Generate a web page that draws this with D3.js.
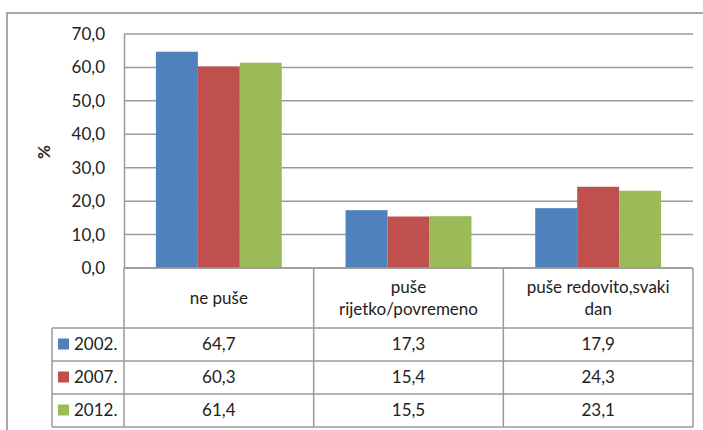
<!DOCTYPE html>
<html>
<head>
<meta charset="utf-8">
<script src="https://cdn.jsdelivr.net/npm/d3@7"></script>
<style>
body { margin: 0; background: #fff; }
text { font-family: Lato, "Liberation Sans", sans-serif; fill: #222; }
</style>
</head>
<body>
<svg id="view" width="703" height="430"></svg>
<script>
const categories = ['ne puše', 'puše rijetko/povremeno', 'puše redovito,svaki dan'];
const catLines = [['ne puše'], ['puše', 'rijetko/povremeno'], ['puše redovito,svaki', 'dan']];
const years = ['2002.', '2007.', '2012.'];
const v2002 = [64.7, 17.3, 17.9];
const v2007 = [60.3, 15.4, 24.3];
const v2012 = [61.4, 15.5, 23.1];
const colors = ['#4F81BD', '#C0504D', '#9BBB59'];
const yTicks = [0, 10, 20, 30, 40, 50, 60, 70];

var series = [v2002, v2007, v2012];
var fmt = d => d.toFixed(1).replace('.', ',');

var view = d3.select('#view');
const LEFT = 124, RIGHT = 693, TOP = 34, BASE = 268;
const ROWH = 33, HEADH = 60, LEGX = 52;
const GRID = '#9a9a9a';

// outer chart frame
view.append('rect')
    .attr('x', 7).attr('y', 13)
    .attr('width', 720).attr('height', 440)
    .attr('fill', 'none').attr('stroke', '#8c8c8c').attr('stroke-width', 1.5);

var x = d3.scaleBand().domain(categories).range([LEFT, RIGHT]).paddingInner(0).paddingOuter(0);
var y = d3.scaleLinear().domain([0, 70]).range([BASE, TOP]);
var xs = d3.scaleBand().domain(years).range([0, x.bandwidth()]).paddingInner(0).paddingOuter(0.76);

// grid
view.append('g').selectAll('line').data(yTicks).enter().append('line')
    .attr('x1', LEFT).attr('x2', RIGHT)
    .attr('y1', d => y(d)).attr('y2', d => y(d))
    .attr('stroke', GRID).attr('stroke-width', 1.5);

var yAxis = view.append('g')
    .attr('transform', 'translate(' + LEFT + ',0)')
    .call(d3.axisLeft(y).tickValues(yTicks).tickFormat(fmt).tickSize(0).tickPadding(19));
yAxis.select('.domain').attr('stroke', GRID).attr('stroke-width', 1.5);
yAxis.selectAll('text').attr('font-size', 17).attr('font-family', 'Lato, "Liberation Sans", sans-serif').attr('fill', '#222');

view.append('text')
    .attr('transform', 'translate(50,152) rotate(-90)')
    .attr('text-anchor', 'middle')
    .attr('font-size', 17).attr('font-weight', 'bold')
    .text('%');

// bars
series.forEach(function(vals, si) {
    view.append('g').selectAll('rect').data(vals).enter().append('rect')
        .attr('x', (d, i) => x(categories[i]) + xs(years[si]))
        .attr('width', xs.bandwidth())
        .attr('y', d => y(d))
        .attr('height', d => y(0) - y(d))
        .attr('fill', colors[si]);
});

// data table
var tab = view.append('g').attr('stroke', GRID).attr('stroke-width', 1.5);
var rowsY = years.map((yr, i) => BASE + HEADH + i * ROWH);
var tBottom = BASE + HEADH + years.length * ROWH;
tab.append('line').attr('x1', LEFT).attr('x2', RIGHT).attr('y1', BASE).attr('y2', BASE);
rowsY.concat([tBottom]).forEach(function(ry) {
    tab.append('line').attr('x1', LEGX).attr('x2', RIGHT).attr('y1', ry).attr('y2', ry);
});
categories.forEach(function(c) {
    tab.append('line').attr('x1', x(c)).attr('x2', x(c)).attr('y1', BASE).attr('y2', tBottom);
});
tab.append('line').attr('x1', RIGHT).attr('x2', RIGHT).attr('y1', BASE).attr('y2', tBottom);
tab.append('line').attr('x1', LEGX).attr('x2', LEGX).attr('y1', rowsY[0]).attr('y2', tBottom);

categories.forEach(function(c, i) {
    var lines = catLines[i];
    var cx = x(c) + x.bandwidth() / 2;
    var cy = BASE + HEADH / 2;
    lines.forEach(function(l, li) {
        view.append('text')
            .attr('x', cx)
            .attr('y', cy + (li - (lines.length - 1) / 2) * 22)
            .attr('dy', '0.35em')
            .attr('text-anchor', 'middle')
            .attr('font-size', 17)
            .text(l);
    });
});

years.forEach(function(yr, si) {
    var cy = rowsY[si] + ROWH / 2;
    view.append('rect')
        .attr('x', 58).attr('y', cy - 6)
        .attr('width', 11).attr('height', 11)
        .attr('fill', colors[si]);
    view.append('text')
        .attr('x', 74).attr('y', cy).attr('dy', '0.35em')
        .attr('font-size', 17)
        .text(yr);
    series[si].forEach(function(v, i) {
        view.append('text')
            .attr('x', x(categories[i]) + x.bandwidth() / 2)
            .attr('y', cy).attr('dy', '0.35em')
            .attr('text-anchor', 'middle')
            .attr('font-size', 17)
            .text(fmt(v));
    });
});
</script>
</body>
</html>
